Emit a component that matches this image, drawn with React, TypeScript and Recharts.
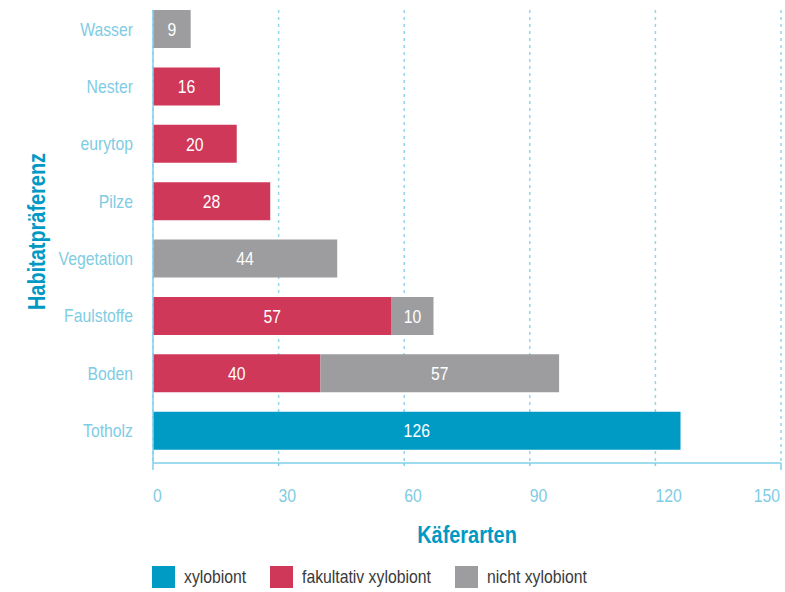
import React from 'react';
import { BarChart, Bar, XAxis, YAxis, CartesianGrid, LabelList, Label } from 'recharts';

const categories = ['Wasser', 'Nester', 'eurytop', 'Pilze', 'Vegetation', 'Faulstoffe', 'Boden', 'Totholz'];
const xylobiont = [null, null, null, null, null, null, null, 126];
const fakultativ = [null, 16, 20, 28, null, 57, 40, null];
const nicht = [9, null, null, null, 44, 10, 57, null];
const xTicks = [0, 30, 60, 90, 120, 150];

const series = [
  { key: 'xylobiont', name: 'xylobiont', color: '#009bc5', values: xylobiont },
  { key: 'fakultativ', name: 'fakultativ xylobiont', color: '#cf3859', values: fakultativ },
  { key: 'nicht', name: 'nicht xylobiont', color: '#9d9d9f', values: nicht },
];
const legendWidths = [118, 185, 150];

const data = categories.map((cat, i) => {
  const row: any = { cat };
  series.forEach((s) => { row[s.key] = s.values[i]; });
  return row;
});

const FONT = "'Liberation Sans', Arial, sans-serif";
const SX = 0.83;
const AXIS = '#7fd0ea';
const TEXT = '#7fcce3';
const TITLE = '#0099c4';
const XMAX = 150;

const NText = ({ x, y, rotate = 0, children, ...rest }: any) => (
  <text x={0} y={0} transform={`translate(${x},${y}) rotate(${rotate}) scale(${SX},1)`} fontFamily={FONT} {...rest}>
    {children}
  </text>
);

const XTick = (props: any) => {
  const { x, y, payload } = props;
  const v = payload.value;
  const edge = v === 0 || v === XMAX;
  return (
    <g>
      <line x1={x} x2={x} y1={y} y2={y + 7} stroke={AXIS} strokeWidth={1.5}
        strokeDasharray={edge ? undefined : '3 4'} />
      <NText x={v === XMAX ? x - 1 : x} y={y + 39} fontSize={19} fill={TEXT}
        textAnchor={v === XMAX ? 'end' : 'start'}>{v}</NText>
    </g>
  );
};

const YTick = (props: any) => {
  const { x, y, payload } = props;
  return (
    <NText x={x} y={y} dy="0.36em" fontSize={19} fill={TEXT} textAnchor="end">{payload.value}</NText>
  );
};

const YTitle = (props: any) => {
  const vb = props.viewBox || {};
  const cx = vb.x + 36;
  const cy = vb.y + vb.height / 2 - 5;
  return (
    <NText x={cx} y={cy} rotate={-90} dy="0.36em" textAnchor="middle"
      fontSize={24} fontWeight="bold" fill={TITLE}>Habitatpräferenz</NText>
  );
};

const XTitle = (props: any) => {
  const vb = props.viewBox || {};
  const cx = vb.x + vb.width / 2;
  const cy = vb.y + 71;
  return (
    <NText x={cx} y={cy} dy="0.36em" textAnchor="middle"
      fontSize={24} fontWeight="bold" fill={TITLE}>Käferarten</NText>
  );
};

const BarLabel = (props: any) => {
  const { x, y, width, height, value } = props;
  if (value == null || value === 0) return null;
  return (
    <NText x={x + width / 2} y={y + height / 2} dy="0.36em" textAnchor="middle" fontSize={19} fill="#ffffff">{value}</NText>
  );
};

export default function App() {
  return (
    <div style={{ position: 'absolute', left: 0, top: 0, width: 785, height: 592, fontFamily: FONT, background: '#fff' }}>
      <BarChart width={785} height={592} data={data} layout="vertical"
        margin={{ top: 10, right: 4, bottom: 29, left: 0 }} barSize={38}>
        <CartesianGrid horizontal={false} strokeDasharray="3 4" stroke="#8fd6ee" strokeWidth={1.5} />
        <XAxis type="number" domain={[0, XMAX]} ticks={xTicks} interval={0} height={100}
          axisLine={{ stroke: AXIS, strokeWidth: 1.5 }} tickLine={false} tickSize={0} tickMargin={0}
          tick={<XTick />}>
          <Label content={<XTitle />} />
        </XAxis>
        <XAxis xAxisId="top" orientation="top" type="number" domain={[0, XMAX]} height={0}
          axisLine={{ stroke: AXIS, strokeWidth: 1.5 }} tick={false} tickLine={false} />
        <YAxis type="category" dataKey="cat" width={153} padding={{ top: -10, bottom: 4 }}
          axisLine={{ stroke: AXIS, strokeWidth: 1.5 }} tickLine={false} tickSize={0} tickMargin={20}
          tick={<YTick />} interval={0}>
          <Label content={<YTitle />} />
        </YAxis>
        <YAxis yAxisId="right" orientation="right" type="category" dataKey="cat" width={0}
          axisLine={{ stroke: AXIS, strokeWidth: 1.5 }} tick={false} tickLine={false} />
        {series.map((s) => (
          <Bar key={s.key} dataKey={s.key} name={s.name} stackId="a" fill={s.color} isAnimationActive={false}>
            <LabelList dataKey={s.key} content={<BarLabel />} />
          </Bar>
        ))}
      </BarChart>
      <div style={{ position: 'absolute', left: 152, top: 566, display: 'flex', alignItems: 'center' }}>
        {series.map((s, i) => (
          <div key={s.key} style={{ display: 'flex', alignItems: 'center', width: legendWidths[i] }}>
            <div style={{ width: 23, height: 22, background: s.color, flex: 'none' }} />
            <span style={{ marginLeft: 9, fontSize: 19, color: '#3a3a3a', fontFamily: FONT, lineHeight: '22px',
              display: 'inline-block', whiteSpace: 'nowrap', transform: `scaleX(${SX})`, transformOrigin: 'left center' }}>{s.name}</span>
          </div>
        ))}
      </div>
    </div>
  );
}
